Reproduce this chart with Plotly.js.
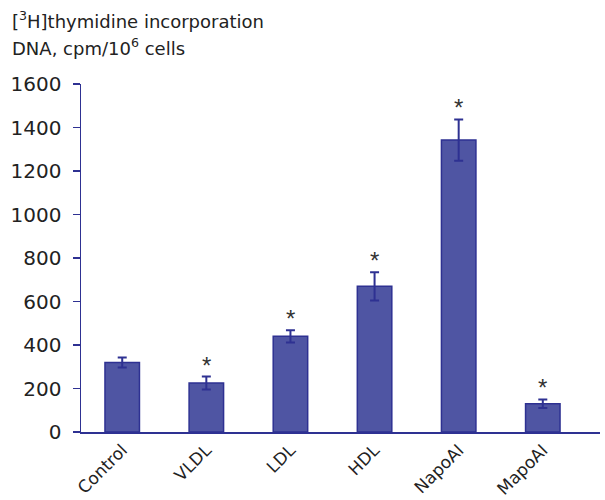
<!DOCTYPE html>
<html><head><meta charset="utf-8">
<script src="https://cdn.plot.ly/plotly-3.0.1.min.js"></script>
<style>body{margin:0}</style></head>
<body><div id="chart" style="width:605px;height:500px"></div>
<script>
const categories = ["Control","VLDL","LDL","HDL","NapoAI","MapoAI"];
const values = [320, 225, 440, 670, 1342, 130];
const errors = [23, 30, 28, 65, 95, 20];
const significant = [false, true, true, true, true, true];
const yTicks = [0,200,400,600,800,1000,1200,1400,1600];
const titleLines = ["[<sup>3</sup>H]thymidine incorporation", "DNA, cpm/10<sup>6</sup> cells"];

const blueDark = "#2e3192";
const fill = "#4f55a3";
const fam = "DejaVu Sans";

const annotations = categories.filter((c,i)=>significant[i]).map(c=>{
  const i = categories.indexOf(c);
  return {x:c, y:values[i]+errors[i], xref:"x", yref:"y", text:"*", showarrow:false,
    yanchor:"bottom", yshift:-4, font:{family:"Liberation Sans", size:24, color:"#333"}};
});
annotations.push({xref:"paper", yref:"paper", x:-0.137, y:1.183, xanchor:"left", yanchor:"middle", align:"left",
  showarrow:false, text:titleLines[0], font:{family:fam, size:18, color:"#222"}});
annotations.push({xref:"paper", yref:"paper", x:-0.137, y:1.1055, xanchor:"left", yanchor:"middle", align:"left",
  showarrow:false, text:titleLines[1], font:{family:fam, size:18, color:"#222"}});

Plotly.newPlot("chart", [{
  type:"bar", x:categories, y:values, width:0.41,
  marker:{color:fill, line:{color:blueDark, width:1.5}},
  error_y:{type:"data", array:errors, visible:true, color:blueDark, thickness:2, width:4.5}
}], {
  width:605, height:500,
  margin:{l:81, r:5, t:84, b:68},
  paper_bgcolor:"white", plot_bgcolor:"white",
  showlegend:false,
  font:{family:fam, size:18, color:"#222"},
  xaxis:{type:"category", range:[-0.49,5.68], showline:true, linecolor:blueDark, linewidth:1.5,
    ticks:"", tickangle:-45, showgrid:false, zeroline:false, tickfont:{family:fam, size:17}, ticklabelstandoff:0},
  yaxis:{range:[0,1600], tickvals:yTicks, showline:true, linecolor:blueDark, linewidth:1.5,
    ticks:"outside", ticklen:7, tickcolor:blueDark, tickwidth:1.5, showgrid:false, zeroline:false,
    ticklabelstandoff:7, tickfont:{family:fam, size:20}},
  annotations:annotations
}, {displayModeBar:false, staticPlot:true});
</script></body></html>
